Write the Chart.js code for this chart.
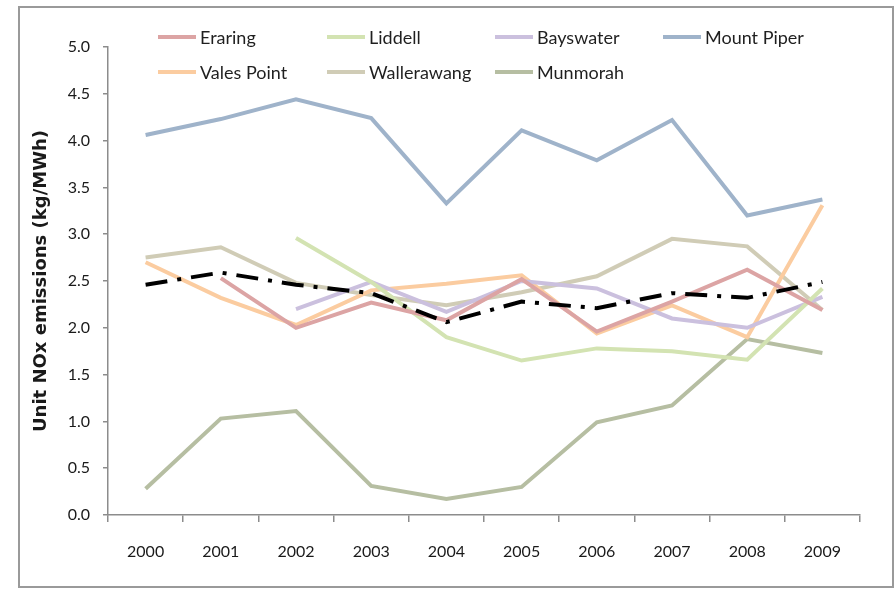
<!DOCTYPE html>
<html>
<head>
<meta charset="utf-8">
<script src="https://cdn.jsdelivr.net/npm/chart.js@4.4.1/dist/chart.umd.min.js"></script>
<style>
  html, body { margin: 0; padding: 0; background: #fff; }
  #wrap { position: relative; width: 896px; height: 590px; }
  #frame {
    position: absolute; left: 18px; top: 6px; width: 876px; height: 582px;
    box-sizing: border-box; border: 2px solid #9a9a9a; pointer-events: none;
  }
  #legend { position: absolute; left: 0; top: 0; }
  .item {
    position: absolute; display: flex; align-items: center;
    font-family: Lato, sans-serif; font-size: 18px; color: #1f1f1f; white-space: nowrap;
  }
  .swatch { display: inline-block; width: 38px; height: 4px; margin-right: 4px; }
</style>
</head>
<body>
<div id="wrap">
  <canvas id="chart" width="896" height="590"></canvas>
  <div id="frame"></div>
  <div id="legend"></div>
</div>
<script>
const years = ['2000', '2001', '2002', '2003', '2004', '2005', '2006', '2007', '2008', '2009'];

const eraring     = [null, 2.53, 2.00, 2.27, 2.08, 2.52, 1.96, 2.28, 2.62, 2.19];
const liddell     = [null, null, 2.96, 2.49, 1.90, 1.65, 1.78, 1.75, 1.66, 2.42];
const bayswater   = [null, null, 2.20, 2.49, 2.17, 2.50, 2.42, 2.10, 2.00, 2.33];
const mountPiper  = [4.06, 4.23, 4.44, 4.24, 3.33, 4.11, 3.79, 4.22, 3.20, 3.37];
const valesPoint  = [2.70, 2.32, 2.03, 2.40, 2.47, 2.56, 1.94, 2.24, 1.90, 3.31];
const wallerawang = [2.75, 2.86, 2.48, 2.35, 2.24, 2.38, 2.55, 2.95, 2.87, 2.19];
const munmorah    = [0.28, 1.03, 1.11, 0.31, 0.17, 0.30, 0.99, 1.17, 1.88, 1.73];
const average     = [2.46, 2.59, 2.46, 2.37, 2.06, 2.28, 2.21, 2.37, 2.32, 2.49];

const yTicks = [0, 0.5, 1, 1.5, 2, 2.5, 3, 3.5, 4, 4.5, 5];

const series = [
  { label: 'Eraring', data: eraring, color: '#dca4a4' },
  { label: 'Liddell', data: liddell, color: '#d3e3b2' },
  { label: 'Bayswater', data: bayswater, color: '#cbc0de' },
  { label: 'Mount Piper', data: mountPiper, color: '#9fb3ca' },
  { label: 'Vales Point', data: valesPoint, color: '#fbcca0' },
  { label: 'Wallerawang', data: wallerawang, color: '#d0ccb6' },
  { label: 'Munmorah', data: munmorah, color: '#b6bea2' },
];

const textColor = '#1a1a1a';
const axisColor = '#8c8c8c';

const datasets = series.map((s) => ({
  label: s.label,
  data: s.data,
  borderColor: s.color,
  backgroundColor: s.color,
  borderWidth: 4,
  pointRadius: 0,
  tension: 0,
  spanGaps: false,
}));

datasets.push({
  label: 'Average',
  data: average,
  borderColor: '#000',
  borderWidth: 4,
  borderDash: [22, 10, 4, 10],
  pointRadius: 0,
  order: -1,
});

new Chart(document.getElementById('chart'), {
  type: 'line',
  data: { labels: years, datasets },
  options: {
    responsive: false,
    animation: false,
    devicePixelRatio: 1,
    layout: { padding: { left: 20, right: 36, top: 47, bottom: 0 } },
    plugins: {
      legend: { display: false },
      tooltip: { enabled: false },
    },
    scales: {
      x: {
        offset: true,
        grid: { offset: true, drawOnChartArea: false, drawTicks: true, tickLength: 7, color: axisColor, lineWidth: 1.5 },
        border: { color: axisColor, width: 1.5 },
        ticks: { color: textColor, padding: 20, font: { family: 'Lato', size: 16 }, maxRotation: 0 },
        afterFit: (scale) => { scale.height = 75; },
      },
      y: {
        min: 0,
        max: 5,
        afterBuildTicks: (scale) => { scale.ticks = yTicks.map((v) => ({ value: v })); },
        grid: { drawOnChartArea: false, drawTicks: true, tickLength: 5, color: axisColor, lineWidth: 1.5 },
        border: { color: axisColor, width: 1.5 },
        ticks: {
          color: textColor,
          padding: 13,
          font: { family: 'Lato', size: 16 },
          callback: (v) => Number(v).toFixed(1),
        },
        title: {
          display: true,
          text: 'Unit NOx emissions (kg/MWh)',
          color: textColor,
          font: { family: 'DejaVu Sans', size: 18, weight: 'bold' },
          padding: { top: 11, bottom: 0 },
        },
        afterFit: (scale) => { scale.width = 88; },
      },
    },
  },
});

// legend laid out as a grid, like the original
const legend = document.getElementById('legend');
const colX = [158, 327, 495, 663];
const rowY = [37, 72];
series.forEach((s, i) => {
  const item = document.createElement('div');
  item.className = 'item';
  item.style.left = colX[i % 4] + 'px';
  item.style.top = (rowY[Math.floor(i / 4)] - 12) + 'px';
  item.style.height = '24px';
  const sw = document.createElement('span');
  sw.className = 'swatch';
  sw.style.background = s.color;
  const txt = document.createElement('span');
  txt.textContent = s.label;
  item.appendChild(sw);
  item.appendChild(txt);
  legend.appendChild(item);
});
</script>
</body>
</html>
